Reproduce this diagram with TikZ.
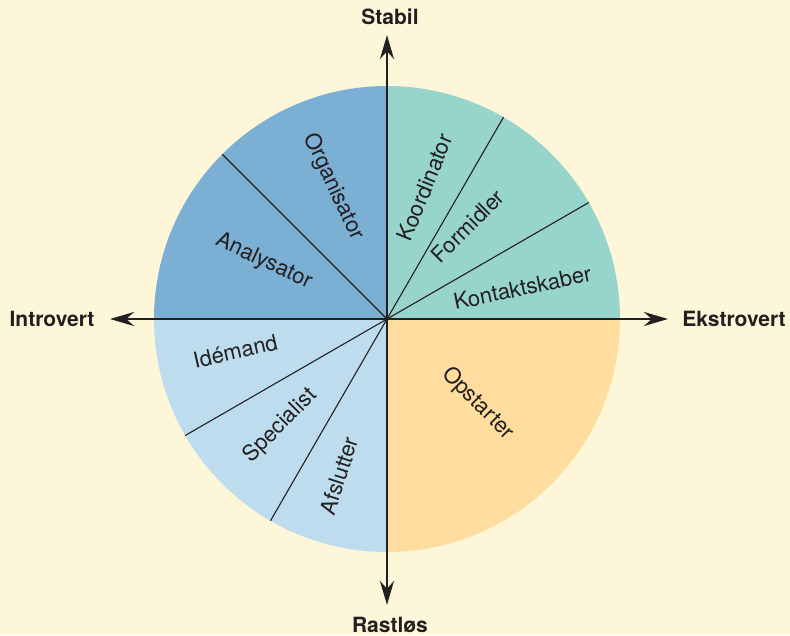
\documentclass[tikz,border=0pt]{standalone}
\usepackage{fontspec}
\setmainfont{TeX Gyre Heros}
\usetikzlibrary{arrows.meta}
\definecolor{paper}{HTML}{FEF6D8}
\definecolor{stable}{HTML}{7BAFD4}
\definecolor{social}{HTML}{97D4CB}
\definecolor{quiet}{HTML}{BDDDEF}
\definecolor{starter}{HTML}{FEDD9E}
\definecolor{ink}{HTML}{231F20}
\tikzset{
  role/.style={font=\fontsize{11}{13}\selectfont, text=ink},
  pole/.style={font=\bfseries\fontsize{10.5}{12}\selectfont, text=ink},
  axis/.style={draw=ink, line width=1.4pt, -{Stealth[length=12pt, width=7pt]}},
  split/.style={draw=ink, line width=0.55pt}
}
\begin{document}
\begin{tikzpicture}[scale=0.017573]
        \fill[paper] (-387,-316) rectangle (403,319);
        \useasboundingbox (-387,-316) rectangle (403,319);
        \coordinate (o) at (0,0);
        % quadrants
        \fill[stable] (o) -- (90:233) arc (90:180:233) -- cycle;
        \fill[social] (o) -- (0:233) arc (0:90:233) -- cycle;
        \fill[quiet] (o) -- (180:233) arc (180:270:233) -- cycle;
        \fill[starter] (o) -- (270:233) arc (270:360:233) -- cycle;
        % sector borders
        \coordinate (b1) at (135:233);
        \coordinate (b2) at (60:233);
        \coordinate (b3) at (30:233);
        \coordinate (b4) at (210:233);
        \coordinate (b5) at (240:233);
        \draw[split] (o) -- (b1);
        \draw[split] (o) -- (b2);
        \draw[split] (o) -- (b3);
        \draw[split] (o) -- (b4);
        \draw[split] (o) -- (b5);
        % roles
        \node[role, rotate=-65] (organisator) at (112:143) {Organisator};
        \node[role, rotate=-25] (analysator) at (155:136) {Analysator};
        \node[role, rotate=68] (koordinator) at (74:137) {Koordinator};
        \node[role, rotate=45] (formidler) at (49:123) {Formidler};
        \node[role, rotate=12] (kontakt) at (13:139) {Kontaktskaber};
        \node[role, rotate=13] (idemand) at (192:155) {Idémand};
        \node[role, rotate=45] (specialist) at (225:151) {Specialist};
        \node[role, rotate=72] (afslutter) at (253:164) {Afslutter};
        \node[role, rotate=-45] (opstarter) at (-43:124) {Opstarter};
        % axes
        \coordinate (top) at (0,284);
        \coordinate (bottom) at (0,-286);
        \coordinate (left) at (-277,0);
        \coordinate (right) at (281,0);
        \draw[axis] (o) -- (top);
        \draw[axis] (o) -- (bottom);
        \draw[axis] (o) -- (left);
        \draw[axis] (o) -- (right);
        \node[pole] (stabil) at (3,302) {Stabil};
        \node[pole] (rastlos) at (3,-306) {Rastløs};
        \node[pole] (introvert) at (-335,0) {Introvert};
        \node[pole] (ekstrovert) at (347,0) {Ekstrovert};
\end{tikzpicture}
\end{document}
